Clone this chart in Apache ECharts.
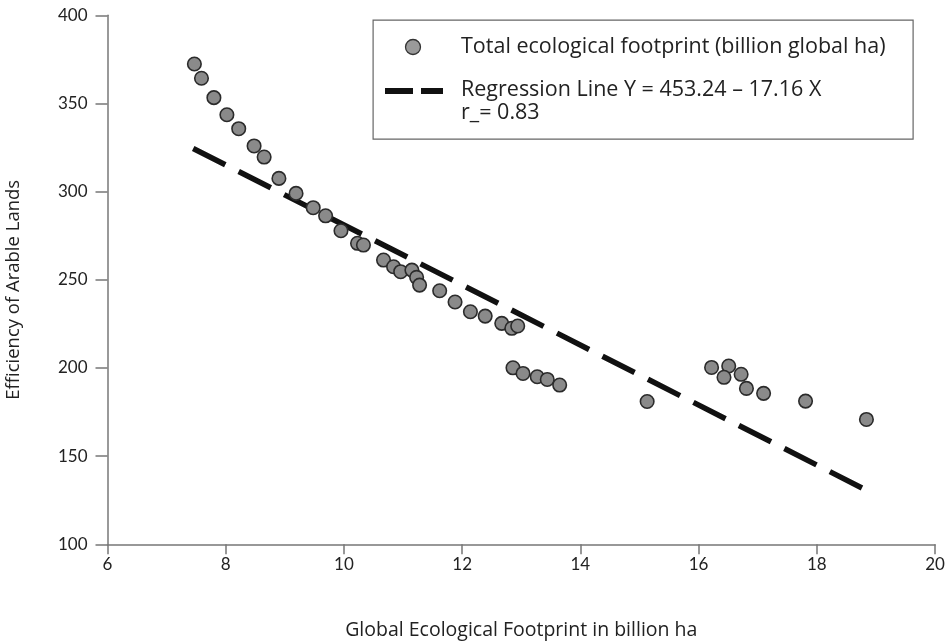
<!DOCTYPE html>
<html>
<head>
<meta charset="utf-8">
<script src="https://cdn.jsdelivr.net/npm/echarts@6/dist/echarts.min.js"></script>
<style>
	html, body { margin: 0; padding: 0; background: #fff; }
	#chart { width: 950px; height: 641px; }
</style>
</head>
<body>
<div id="chart"></div>
<script>
// footprint (billion ha) vs efficiency
var footprint = [7.47, 7.59, 7.80, 8.02, 8.22, 8.48, 8.65, 8.90, 9.19, 9.48, 9.69, 9.95,
	10.23, 10.33, 10.67, 10.84, 10.96, 11.15, 11.23, 11.28, 11.62, 11.88, 12.14, 12.39,
	12.67, 12.84, 12.94, 12.86, 13.03, 13.27, 13.44, 13.65, 15.13, 16.22, 16.51, 16.43,
	16.72, 16.81, 17.10, 17.81, 18.84];
var efficiency = [372.4, 364.3, 353.3, 343.6, 335.7, 325.9, 319.6, 307.5, 299.0, 290.9, 286.3, 277.8,
	270.7, 269.7, 261.2, 257.4, 254.6, 255.5, 251.4, 247.0, 243.8, 237.4, 231.9, 229.4,
	225.3, 222.5, 223.8, 200.1, 196.9, 195.0, 193.5, 190.3, 181.0, 200.3, 201.1, 194.7,
	196.4, 188.4, 185.6, 181.2, 170.8];
// regression line end points
var lineX = [7.45, 18.85];
var lineY = [324.5, 130.5];
var xTicks = [6, 8, 10, 12, 14, 16, 18, 20];
var yTicks = [100, 150, 200, 250, 300, 350, 400];

var tickFont = 'Lato';
var textFont = '"Open Sans"';
var pts = footprint.map(function (x, i) { return [x, efficiency[i]]; });
var reg = lineX.map(function (x, i) { return [x, lineY[i]]; });

var myChart = echarts.init(document.getElementById('chart'));
var option = {
	backgroundColor: '#fff',
	animation: false,
	grid: { left: 107.5, right: 15, top: 15.3, bottom: 96.7, containLabel: false, outerBoundsMode: 'none' },
	xAxis: {
		type: 'value',
		min: xTicks[0], max: xTicks[xTicks.length - 1], interval: 2,
		name: 'Global Ecological Footprint in billion ha',
		nameLocation: 'middle', nameGap: 76,
		nameTextStyle: { fontFamily: 'Open Sans', fontSize: 19.5, color: '#222' },
		axisLine: { lineStyle: { color: '#777', width: 1.5 } },
		axisTick: { length: 10, lineStyle: { color: '#777', width: 1.5 } },
		axisLabel: { fontFamily: tickFont, fontSize: 17, color: '#222', margin: 12 },
		splitLine: { show: false }
	},
	yAxis: {
		type: 'value',
		min: yTicks[0], max: yTicks[yTicks.length - 1], interval: 50,
		name: 'Efficiency of Arable Lands',
		nameLocation: 'middle', nameGap: 84,
		nameTextStyle: { fontFamily: 'Open Sans', fontSize: 18.5, color: '#222', padding: [0, 20, 0, 0] },
		axisLine: { show: true, lineStyle: { color: '#777', width: 1.5 } },
		axisTick: { show: true, length: 12, lineStyle: { color: '#777', width: 1.5 } },
		axisLabel: { fontFamily: tickFont, fontSize: 17, color: '#222', margin: 20 },
		splitLine: { show: false }
	},
	series: [
		{
			name: 'Regression Line Y = 453.24 – 17.16 X',
			type: 'line',
			data: reg,
			symbol: 'none',
			lineStyle: { color: '#111', width: 5.5, type: [36, 15], cap: 'butt' },
			z: 2
		},
		{
			name: 'Total ecological footprint (billion global ha)',
			type: 'scatter',
			data: pts,
			symbol: 'circle',
			symbolSize: 13.5,
			itemStyle: { color: '#8a8a8a', borderColor: '#2b2b2b', borderWidth: 1.6, opacity: 1 },
			z: 3
		}
	],
	graphic: [
		{
			type: 'rect', left: 372.5, top: 19.5,
			shape: { width: 540, height: 119 },
			style: { fill: '#fff', stroke: '#666', lineWidth: 1.2 },
			z: 10
		},
		{
			type: 'circle', x: 413, y: 47,
			shape: { r: 7.5 },
			style: { fill: '#9a9a9a', stroke: '#333', lineWidth: 1.3 },
			z: 11
		},
		{
			type: 'line',
			shape: { x1: 385, y1: 91, x2: 443, y2: 91 },
			style: { stroke: '#111', lineWidth: 6, lineDash: [28, 8] },
			z: 11
		},
		{
			type: 'text', x: 461, y: 47,
			style: { text: 'Total ecological footprint (billion global ha)', font: '21.5px ' + textFont, fill: '#222', verticalAlign: 'middle' },
			z: 11
		},
		{
			type: 'text', x: 461, y: 90,
			style: { text: 'Regression Line Y = 453.24 – 17.16 X', font: '21.5px ' + textFont, fill: '#222', verticalAlign: 'middle' },
			z: 11
		},
		{
			type: 'text', x: 461, y: 113,
			style: { text: 'r_= 0.83', font: '21.5px ' + textFont, fill: '#222', verticalAlign: 'middle' },
			z: 11
		}
	]
};
myChart.setOption(option);
</script>
</body>
</html>
